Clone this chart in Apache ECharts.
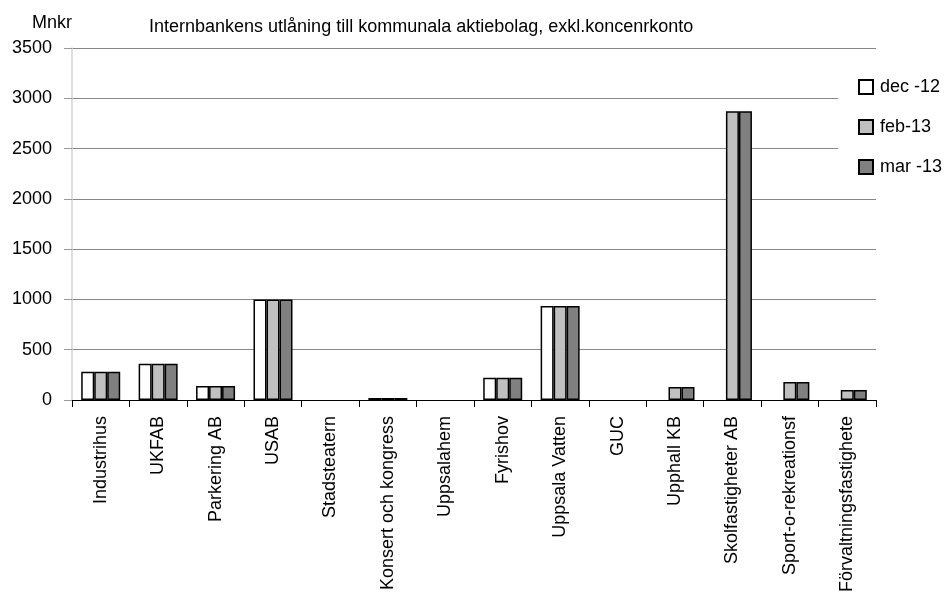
<!DOCTYPE html>
<html><head><meta charset="utf-8">
<script src="https://cdn.jsdelivr.net/npm/echarts@6/dist/echarts.min.js"></script>
<style>html,body{margin:0;padding:0;background:#fff}#c{width:948px;height:601px}</style>
</head><body><div id="c"></div>
<script>
const categories = ["Industrihus","UKFAB","Parkering AB","USAB","Stadsteatern","Konsert och kongress","Uppsalahem","Fyrishov","Uppsala Vatten","GUC","Upphall KB","Skolfastigheter AB","Sport-o-rekreationsf","Förvaltningsfastighete"];
const dec12 = [280, 360, 140, 1000, 0, 20, 0, 220, 935, 0, 0, 0, 0, 0];
const feb13 = [280, 360, 140, 1000, 0, 20, 0, 220, 935, 0, 130, 2870, 180, 100];
const mar13 = [280, 360, 140, 1000, 0, 20, 0, 220, 935, 0, 130, 2870, 180, 100];
const seriesNames = ["dec -12", "feb-13", "mar -13"];
const yTicks = [0, 500, 1000, 1500, 2000, 2500, 3000, 3500];

const FONT = "'Liberation Sans', Arial, sans-serif";
const chart = echarts.init(document.getElementById('c'));
const colors = ['#ffffff', '#c0c0c0', '#808080'];
const mk = (name, data, color) => ({
  name, type: 'bar', data: data.map(v => v === 0 ? null : v), barWidth: 13, barGap: '0%',
  itemStyle: { color, borderColor: '#000', borderWidth: 1.5 }
});
chart.setOption({
  animation: false,
  textStyle: { fontFamily: FONT },
  title: { text: 'Internbankens utlåning till kommunala aktiebolag, exkl.koncenrkonto', left: 144, top: 13,
    textStyle: { fontFamily: FONT, fontSize: 18, fontWeight: 'normal', color: '#000' } },
  legend: {
    orient: 'vertical', left: 838, top: 68, itemGap: 22, itemWidth: 14, itemHeight: 14,
    backgroundColor: '#fff', padding: [10, 6, 10, 20],
    icon: 'rect',
    textStyle: { fontFamily: FONT, fontSize: 18, color: '#000', padding: [0, 0, 0, 2] },
    data: seriesNames
  },
  grid: { left: 72, right: 72, top: 48, bottom: 201, containLabel: false },
  xAxis: {
    type: 'category', data: categories,
    axisLine: { lineStyle: { color: '#000', width: 1 } },
    axisTick: { show: true, length: 7, lineStyle: { color: '#000' } },
    axisLabel: { rotate: 90, interval: 0, fontFamily: FONT, fontSize: 18, color: '#000', margin: 16 }
  },
  yAxis: {
    type: 'value', min: 0, max: 3500, interval: 500,
    name: 'Mnkr', nameLocation: 'end', nameGap: 16,
    nameTextStyle: { fontFamily: FONT, fontSize: 18, color: '#000', align: 'right' },
    axisLine: { show: true, lineStyle: { color: '#d4d4d4', width: 1.5 } },
    axisTick: { show: true, length: 8, lineStyle: { color: '#999' } },
    axisLabel: { fontFamily: FONT, fontSize: 18, color: '#000', margin: 20,
      formatter: v => yTicks.includes(v) ? String(v) : '' },
    splitLine: { lineStyle: { color: '#888', width: 1 } }
  },
  series: [mk(seriesNames[0], dec12, colors[0]), mk(seriesNames[1], feb13, colors[1]), mk(seriesNames[2], mar13, colors[2])]
});
</script></body></html>
